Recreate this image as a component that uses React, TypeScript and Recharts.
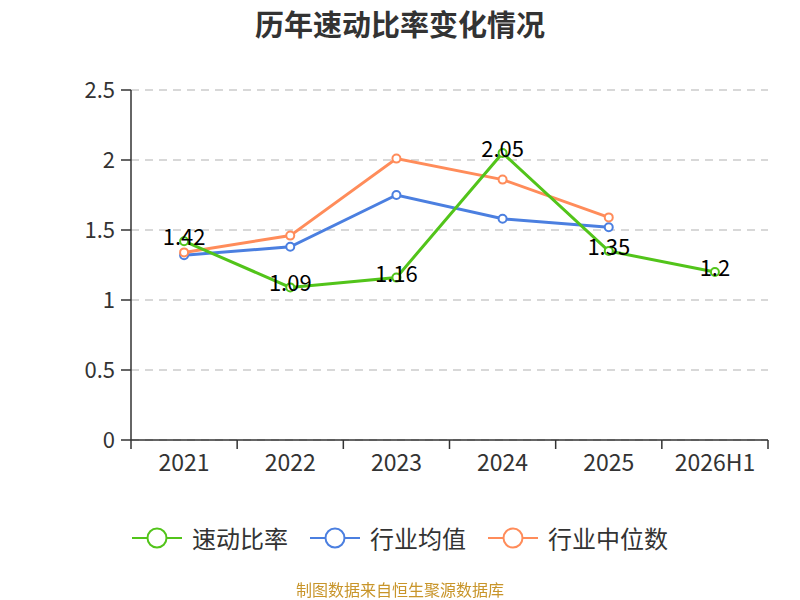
import React from 'react';
import { LineChart, Line, XAxis, YAxis, CartesianGrid, LabelList } from 'recharts';

const categories = ['2021', '2022', '2023', '2024', '2025', '2026H1'];
const quickRatio = [1.42, 1.09, 1.16, 2.05, 1.35, 1.2];
const industryAvg = [1.32, 1.38, 1.75, 1.58, 1.52, null];
const industryMedian = [1.34, 1.46, 2.01, 1.86, 1.59, null];
const yTicks = [0, 0.5, 1, 1.5, 2, 2.5];

const series = [
  { key: 'quick', name: '速动比率', color: '#52c41a' },
  { key: 'avg', name: '行业均值', color: '#4b7fe0' },
  { key: 'median', name: '行业中位数', color: '#ff8c5a' },
];

const data = categories.map((name, i) => ({
  name,
  quick: quickRatio[i],
  avg: industryAvg[i],
  median: industryMedian[i],
}));

const font = '"Noto Sans CJK SC", "Noto Sans", sans-serif';

const XTick = (props: any) => {
  const { x, y, payload, index, visibleTicksCount } = props;
  const off = payload && payload.offset ? payload.offset : 53;
  const top = y - 8;
  return (
    <g>
      <line x1={x - off} y1={top} x2={x - off} y2={top + 9} stroke="#333" strokeWidth={1.5} />
      {index === visibleTicksCount - 1 && (
        <line x1={x + off} y1={top} x2={x + off} y2={top + 9} stroke="#333" strokeWidth={1.5} />
      )}
      <text x={x} y={top + 25} textAnchor="middle" dominantBaseline="middle" fill="#333" fontSize={23} fontFamily={font}>
        {payload.value}
      </text>
    </g>
  );
};

const ValueLabel = (props: any) => {
  const { x, y, value } = props;
  if (value == null) return null;
  return (
    <text x={x} y={y - 2} textAnchor="middle" dominantBaseline="middle" fill="#000" fontSize={22} fontFamily={font}>
      {value}
    </text>
  );
};

export default function App() {
  return (
    <div style={{ position: 'fixed', left: 0, top: 0, width: 800, height: 600, background: '#fff', fontFamily: font }}>
      <div style={{ position: 'absolute', top: 2, width: 800, textAlign: 'center', fontSize: 29, fontWeight: 'bold', color: '#333' }}>
        历年速动比率变化情况
      </div>
      <LineChart width={800} height={600} data={data} margin={{ top: 90, right: 32, left: 71, bottom: 120 }}>
        <CartesianGrid vertical={false} stroke="#ccc" strokeDasharray="8 6" strokeWidth={1.5} />
        <XAxis
          dataKey="name"
          scale="band"
          height={40}
          tickLine={false}
          axisLine={{ stroke: '#333', strokeWidth: 1.5 }}
          tick={<XTick />}
          interval={0}
        />
        <YAxis
          width={60}
          domain={[0, 2.5]}
          ticks={yTicks}
          tickSize={10}
          tickMargin={6}
          axisLine={{ stroke: '#333', strokeWidth: 1.5 }}
          tickLine={{ stroke: '#333', strokeWidth: 1.5 }}
          tick={{ fill: '#333', fontSize: 22, fontFamily: font }}
        />
        <Line
          dataKey="avg"
          stroke={series[1].color}
          strokeWidth={3}
          dot={{ r: 4, fill: '#fff', stroke: series[1].color, strokeWidth: 2 }}
          isAnimationActive={false}
        />
        <Line
          dataKey="median"
          stroke={series[2].color}
          strokeWidth={3}
          dot={{ r: 4, fill: '#fff', stroke: series[2].color, strokeWidth: 2 }}
          isAnimationActive={false}
        />
        <Line
          dataKey="quick"
          stroke={series[0].color}
          strokeWidth={3}
          dot={{ r: 4, fill: '#fff', stroke: series[0].color, strokeWidth: 2 }}
          isAnimationActive={false}
        >
          <LabelList dataKey="quick" content={<ValueLabel />} />
        </Line>
      </LineChart>
      <div style={{ position: 'absolute', top: 522, width: 800, display: 'flex', justifyContent: 'center', gap: 22 }}>
        {series.map((s) => (
          <div key={s.key} style={{ display: 'flex', alignItems: 'center', fontSize: 24, lineHeight: '32px', color: '#333' }}>
            <svg width={50} height={24} style={{ marginRight: 10 }}>
              <line x1={0} y1={12} x2={50} y2={12} stroke={s.color} strokeWidth={2} />
              <circle cx={25} cy={12} r={9.5} fill="#fff" stroke={s.color} strokeWidth={2} />
            </svg>
            {s.name}
          </div>
        ))}
      </div>
      <div style={{ position: 'absolute', top: 577, width: 800, textAlign: 'center', fontSize: 16, color: '#c8952a' }}>
        制图数据来自恒生聚源数据库
      </div>
    </div>
  );
}
